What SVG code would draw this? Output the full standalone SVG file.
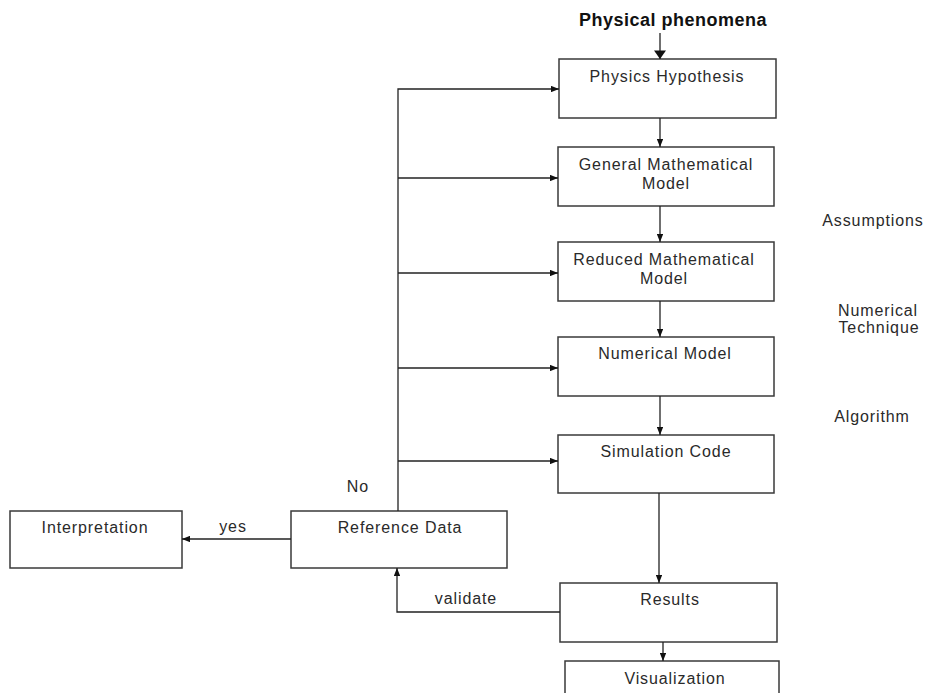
<svg xmlns="http://www.w3.org/2000/svg" width="925" height="693" viewBox="0 0 925 693">
  <style>
    .box rect { fill: #fff; stroke: #3a3a3a; stroke-width: 1.5; }
    .lbl { font-family: "Liberation Sans", Arial, sans-serif; font-size: 16px; letter-spacing: 0.9px; fill: #2a2a2a; text-anchor: middle; }
    .edge { fill: none; stroke: #222; stroke-width: 1.3; }
    .title { font-family: "Liberation Sans", Arial, sans-serif; font-size: 18px; font-weight: bold; letter-spacing: 0.5px; fill: #111; text-anchor: middle; }
  </style>
  <defs>
    <marker id="arr" viewBox="0 0 10 8" refX="10" refY="4" markerWidth="8" markerHeight="6.5" markerUnits="userSpaceOnUse" orient="auto">
      <path d="M0,0 L10,4 L0,8 Z" fill="#111"/>
    </marker>
    <marker id="arrBig" viewBox="0 0 12 17" refX="12" refY="8.5" markerWidth="17" markerHeight="12" markerUnits="userSpaceOnUse" orient="auto">
      <path d="M0,0 L12,8.5 L0,17 Z" fill="#111"/>
    </marker>
  </defs>

  <!-- input heading -->
  <text class="title" x="673" y="26">Physical phenomena</text>

  <!-- process boxes -->
  <g id="physics-hypothesis" class="box">
    <rect x="559" y="59" width="217" height="59"/>
    <text class="lbl" x="667" y="82">Physics Hypothesis</text>
  </g>
  <g id="general-model" class="box">
    <rect x="558" y="147" width="216" height="59"/>
    <text class="lbl" x="666" y="170">General Mathematical</text>
    <text class="lbl" x="666" y="189">Model</text>
  </g>
  <g id="reduced-model" class="box">
    <rect x="558" y="242" width="216" height="59"/>
    <text class="lbl" x="664" y="265">Reduced Mathematical</text>
    <text class="lbl" x="664" y="284">Model</text>
  </g>
  <g id="numerical-model" class="box">
    <rect x="558" y="337" width="216" height="59"/>
    <text class="lbl" x="665" y="359">Numerical Model</text>
  </g>
  <g id="simulation-code" class="box">
    <rect x="558" y="435" width="216" height="58"/>
    <text class="lbl" x="666" y="457">Simulation Code</text>
  </g>
  <g id="results" class="box">
    <rect x="560" y="583" width="217" height="59"/>
    <text class="lbl" x="670" y="605">Results</text>
  </g>
  <g id="visualization" class="box">
    <rect x="565" y="661" width="214" height="50"/>
    <text class="lbl" x="675" y="684">Visualization</text>
  </g>
  <g id="reference-data" class="box">
    <rect x="291" y="511" width="216" height="57"/>
    <text class="lbl" x="400" y="533">Reference Data</text>
  </g>
  <g id="interpretation" class="box">
    <rect x="10" y="511" width="172" height="57"/>
    <text class="lbl" x="95" y="533">Interpretation</text>
  </g>

  <!-- side annotations -->
  <g id="annotations">
    <text class="lbl" x="873" y="226">Assumptions</text>
    <text class="lbl" x="878" y="316">Numerical</text>
    <text class="lbl" x="879" y="333">Technique</text>
    <text class="lbl" x="872" y="422">Algorithm</text>
  </g>

  <!-- connectors -->
  <g id="connectors">
    <path class="edge" d="M660,33 V59" stroke-width="2" marker-end="url(#arrBig)"/>
    <path class="edge" d="M660,118 V147" marker-end="url(#arr)"/>
    <path class="edge" d="M660,206 V242" marker-end="url(#arr)"/>
    <path class="edge" d="M660,301 V337" marker-end="url(#arr)"/>
    <path class="edge" d="M660,396 V435" marker-end="url(#arr)"/>
    <path class="edge" d="M659,493 V583" marker-end="url(#arr)"/>
    <path class="edge" d="M663,642 V661" marker-end="url(#arr)"/>

    <!-- feedback from reference data -->
    <path class="edge" d="M398,511 V89 H559" marker-end="url(#arr)"/>
    <path class="edge" d="M398,178 H558" marker-end="url(#arr)"/>
    <path class="edge" d="M398,273 H558" marker-end="url(#arr)"/>
    <path class="edge" d="M398,368 H558" marker-end="url(#arr)"/>
    <path class="edge" d="M398,461 H558" marker-end="url(#arr)"/>
    <text class="lbl" x="358" y="492">No</text>

    <!-- validation and decision -->
    <path class="edge" d="M560,612 H397 V568" marker-end="url(#arr)"/>
    <text class="lbl" x="466" y="604">validate</text>
    <path class="edge" d="M291,539 H182" marker-end="url(#arr)"/>
    <text class="lbl" x="233" y="532">yes</text>
  </g>
</svg>
